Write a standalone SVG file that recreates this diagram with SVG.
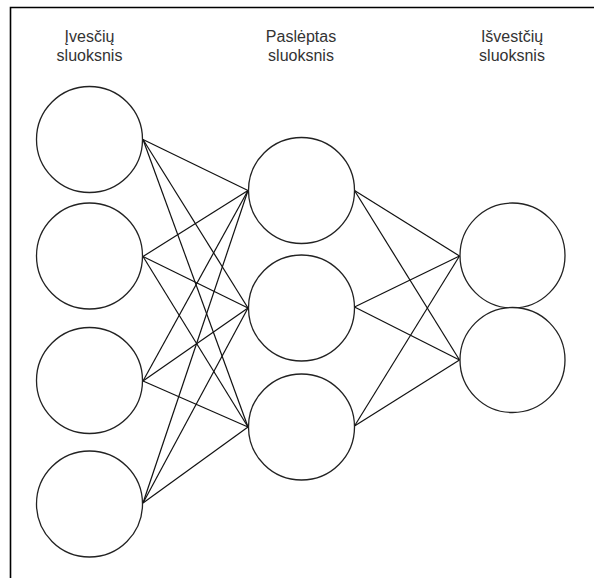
<svg xmlns="http://www.w3.org/2000/svg" width="594" height="578" viewBox="0 0 594 578">
  <style>
    .node { fill: #ffffff; stroke: #222222; stroke-width: 1.3; }
    .edge { stroke: #111111; stroke-width: 1.2; fill: none; }
    .label { font-family: "Liberation Sans", Arial, sans-serif; font-size: 16px; fill: #333333; text-anchor: middle; }
    .frame { stroke: #000000; stroke-width: 1.6; fill: none; }
  </style>
  <rect width="594" height="578" fill="#ffffff"/>
  <path class="frame" d="M10.5,578 V7.5 H594"/>

  <!-- layer titles -->
  <g id="title-input">
    <text class="label" x="89.5" y="41.5">Įvesčių</text>
    <text class="label" x="89.5" y="61">sluoksnis</text>
  </g>
  <g id="title-hidden">
    <text class="label" x="301" y="41.5">Paslėptas</text>
    <text class="label" x="301" y="61">sluoksnis</text>
  </g>
  <g id="title-output">
    <text class="label" x="512" y="41.5">Išvestčių</text>
    <text class="label" x="512" y="61">sluoksnis</text>
  </g>

  <!-- connections: input -> hidden, hidden -> output -->
  <g id="connectors">
    <line class="edge" x1="143" y1="139.5" x2="248" y2="190.5"/>
    <line class="edge" x1="143" y1="139.5" x2="248" y2="308"/>
    <line class="edge" x1="143" y1="139.5" x2="248" y2="427"/>
    <line class="edge" x1="143" y1="256.5" x2="248" y2="190.5"/>
    <line class="edge" x1="143" y1="256.5" x2="248" y2="308"/>
    <line class="edge" x1="143" y1="256.5" x2="248" y2="427"/>
    <line class="edge" x1="143" y1="381" x2="248" y2="190.5"/>
    <line class="edge" x1="143" y1="381" x2="248" y2="308"/>
    <line class="edge" x1="143" y1="381" x2="248" y2="427"/>
    <line class="edge" x1="143" y1="503" x2="248" y2="190.5"/>
    <line class="edge" x1="143" y1="503" x2="248" y2="308"/>
    <line class="edge" x1="143" y1="503" x2="248" y2="427"/>

    <line class="edge" x1="354.5" y1="190.5" x2="459.5" y2="256"/>
    <line class="edge" x1="354.5" y1="190.5" x2="459.5" y2="360"/>
    <line class="edge" x1="354.5" y1="307" x2="459.5" y2="256"/>
    <line class="edge" x1="354.5" y1="307" x2="459.5" y2="360"/>
    <line class="edge" x1="354.5" y1="426" x2="459.5" y2="256"/>
    <line class="edge" x1="354.5" y1="426" x2="459.5" y2="360"/>
  </g>

  <!-- input layer -->
  <g id="in-1"><circle class="node" cx="89.5" cy="139.5" r="53"/></g>
  <g id="in-2"><circle class="node" cx="89.5" cy="256" r="53"/></g>
  <g id="in-3"><circle class="node" cx="89.5" cy="380.5" r="53"/></g>
  <g id="in-4"><circle class="node" cx="89.5" cy="504" r="53"/></g>

  <!-- hidden layer -->
  <g id="hid-1"><circle class="node" cx="301.5" cy="190.5" r="53"/></g>
  <g id="hid-2"><circle class="node" cx="301.5" cy="308" r="53"/></g>
  <g id="hid-3"><circle class="node" cx="301.5" cy="427" r="53"/></g>

  <!-- output layer -->
  <g id="out-1"><circle class="node" cx="512.5" cy="255.5" r="52.5"/></g>
  <g id="out-2"><circle class="node" cx="512.5" cy="360" r="52.5"/></g>
</svg>
